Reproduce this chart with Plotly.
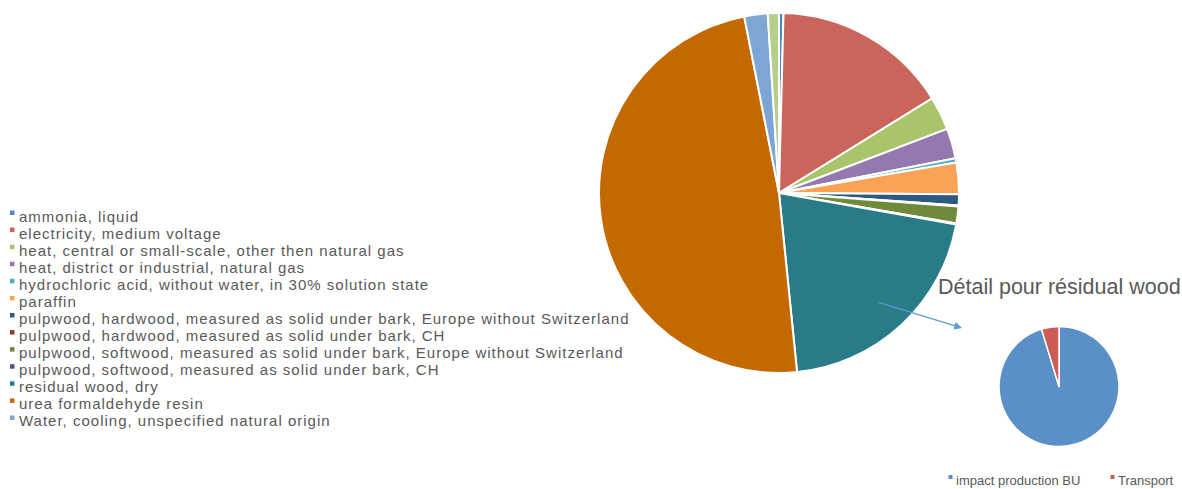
import plotly.graph_objects as go

W, H = 1182, 489

# Main pie data (clockwise from 12 o'clock)
labels = [
    "ammonia, liquid",
    "electricity, medium voltage",
    "heat, central or small-scale, other then natural gas",
    "heat, district or industrial, natural gas",
    "hydrochloric acid, without water, in 30% solution state",
    "paraffin",
    "pulpwood, hardwood, measured as solid under bark, Europe without Switzerland",
    "pulpwood, hardwood, measured as solid under bark, CH",
    "pulpwood, softwood, measured as solid under bark, Europe without Switzerland",
    "pulpwood, softwood, measured as solid under bark, CH",
    "residual wood, dry",
    "urea formaldehyde resin",
    "Water, cooling, unspecified natural origin",
]
values = [0.4, 15.8, 3.0, 2.7, 0.4, 2.8, 1.0, 0.1, 1.5, 0.1, 20.6, 48.5, 2.1]
colors = ["#4A86C8", "#CB645A", "#A9C46A", "#9479B0", "#4BACC6", "#F7A254",
          "#2C5A83", "#8B3A36", "#6F8A3A", "#5E4A7C", "#2A7B88", "#C46800", "#7EA6D4"]
# unlabeled slice visible in the chart between water and ammonia
extra_label = "(other)"
extra_value = 1.0
extra_color = "#B5CF8A"

# Detail pie
detail_title = "Détail pour résidual wood"
detail_labels = ["impact production BU", "Transport"]
detail_values = [95.3, 4.7]
detail_colors = ["#5B8FC7", "#CC5C55"]

FONT = "Liberation Sans, Arial, sans-serif"
GREY = "#595959"


def px(x):
    return x / W


def py(y):
    return 1 - y / H


fig = go.Figure()
fig.add_trace(go.Pie(
    labels=labels + [extra_label], values=values + [extra_value],
    marker=dict(colors=colors + [extra_color], line=dict(color="white", width=2)),
    sort=False, direction="clockwise", rotation=0, textinfo="none",
    hoverinfo="label+percent", showlegend=False,
    domain=dict(x=[px(599), px(959)], y=[py(373), py(13)]),
))
fig.add_trace(go.Pie(
    labels=detail_labels, values=detail_values,
    marker=dict(colors=detail_colors, line=dict(color="white", width=1.5)),
    sort=False, direction="clockwise", rotation=0, textinfo="none",
    hoverinfo="label+percent", showlegend=False,
    domain=dict(x=[px(999), px(1119)], y=[py(446.5), py(326.5)]),
))

shapes = []
annotations = []
# manual legend for main pie
for i, (lab, col) in enumerate(zip(labels, colors)):
    yc = 216 + i * 17.08
    shapes.append(dict(type="rect", xref="paper", yref="paper",
                       x0=px(10), x1=px(14.5), y0=py(yc - 1), y1=py(yc - 5.5),
                       fillcolor=col, line=dict(width=0)))
    annotations.append(dict(text='<span style="letter-spacing:1px">' + lab + '</span>',
                            x=px(17), y=py(yc), xref="paper", yref="paper",
                            xanchor="left", yanchor="middle", showarrow=False,
                            font=dict(family=FONT, size=15, color=GREY)))

# detail legend
for lab, col, xm in zip(detail_labels, detail_colors, [950, 1112]):
    yc = 480
    shapes.append(dict(type="rect", xref="paper", yref="paper",
                       x0=px(xm - 1.5), x1=px(xm + 2.5), y0=py(yc - 1), y1=py(yc - 5),
                       fillcolor=col, line=dict(width=0)))
    annotations.append(dict(text=lab, x=px(xm + 4), y=py(yc), xref="paper", yref="paper",
                            xanchor="left", yanchor="middle", showarrow=False,
                            font=dict(family=FONT, size=13, color=GREY)))

# title of detail
annotations.append(dict(text=detail_title, x=px(1059), y=py(287),
                        xref="paper", yref="paper", xanchor="center", yanchor="middle",
                        showarrow=False, font=dict(family=FONT, size=21.5, color=GREY)))
# arrow
annotations.append(dict(text="", x=px(962), y=py(328), xref="paper", yref="paper",
                        ax=-85, ay=-26, showarrow=True, arrowhead=2, arrowsize=1.2,
                        arrowwidth=1.3, arrowcolor="#5B9BD5"))

fig.update_layout(width=W, height=H, margin=dict(l=0, r=0, t=0, b=0),
                  paper_bgcolor="white", plot_bgcolor="white",
                  shapes=shapes, annotations=annotations, showlegend=False)

fig.write_html("out.html")
